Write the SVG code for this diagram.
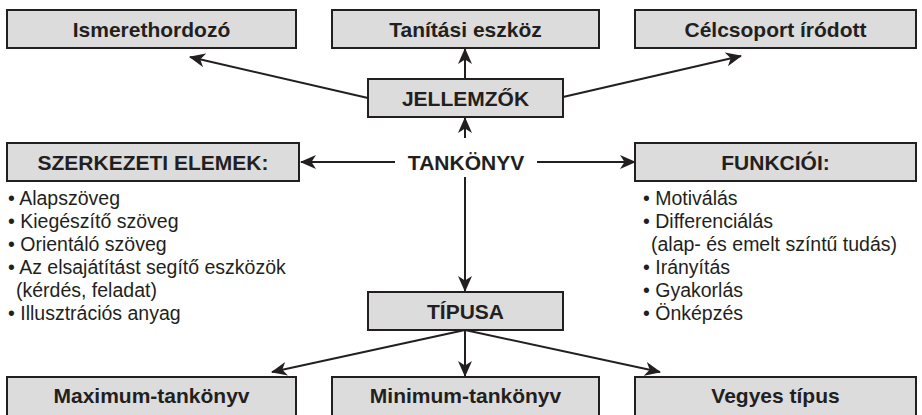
<svg xmlns="http://www.w3.org/2000/svg" width="922" height="415" viewBox="0 0 922 415">
<defs>
<marker id="ah" markerWidth="16" markerHeight="14" refX="15" refY="7" orient="auto" markerUnits="userSpaceOnUse">
<path d="M0,0 L16,7 L0,14 L4.5,7 Z" fill="#231f20"/>
</marker>
<style>
.box{fill:#dcdcdc;stroke:#231f20;stroke-width:2}
.lbl{font-family:"Liberation Sans",Arial,sans-serif;font-weight:bold;font-size:21px;fill:#231f20;text-anchor:middle}
.lst{font-family:"Liberation Sans",Arial,sans-serif;font-size:19.5px;fill:#231f20}
.con{stroke:#231f20;stroke-width:2;fill:none;marker-end:url(#ah)}
</style>
</defs>
<rect width="922" height="415" fill="#fff"/>
<g id="connectors">
<line class="con" x1="368" y1="98" x2="190" y2="57"/>
<line class="con" x1="465" y1="79" x2="465" y2="49"/>
<line class="con" x1="563" y1="97" x2="741" y2="56"/>
<line class="con" x1="465" y1="138" x2="465" y2="118"/>
<line class="con" x1="395" y1="162" x2="301" y2="162"/>
<line class="con" x1="537" y1="162" x2="635" y2="162"/>
<line class="con" x1="465" y1="177" x2="465" y2="291"/>
<line class="con" x1="465" y1="330" x2="272" y2="372"/>
<line class="con" x1="465" y1="330" x2="465" y2="376"/>
<line class="con" x1="465" y1="330" x2="660" y2="372"/>
</g>
<g id="ismerethordozo"><rect class="box" x="7" y="10" width="289" height="38"/><text class="lbl" x="151.5" y="36.5">Ismerethordozó</text></g>
<g id="tanitasi-eszkoz"><rect class="box" x="332" y="10" width="267" height="38"/><text class="lbl" x="465.5" y="36.5">Tanítási eszköz</text></g>
<g id="celcsoport"><rect class="box" x="635" y="10" width="281" height="38"/><text class="lbl" x="775.5" y="36.5">Célcsoport íródott</text></g>
<g id="jellemzok"><rect class="box" x="368" y="79" width="195" height="38"/><text class="lbl" x="465.5" y="105.5">JELLEMZŐK</text></g>
<g id="tankonyv"><text class="lbl" x="466" y="169.5">TANKÖNYV</text></g>
<g id="szerkezeti"><rect class="box" x="7" y="143" width="292" height="38"/><text class="lbl" x="153" y="169.5">SZERKEZETI ELEMEK:</text>
<text class="lst" x="8" y="205">• Alapszöveg</text>
<text class="lst" x="8" y="228">• Kiegészítő szöveg</text>
<text class="lst" x="8" y="251">• Orientáló szöveg</text>
<text class="lst" x="8" y="274">• Az elsajátítást segítő eszközök</text>
<text class="lst" x="16" y="297">(kérdés, feladat)</text>
<text class="lst" x="8" y="320">• Illusztrációs anyag</text>
</g>
<g id="funkcioi"><rect class="box" x="635" y="143" width="281" height="38"/><text class="lbl" x="775.5" y="169.5">FUNKCIÓI:</text>
<text class="lst" x="643" y="205">• Motiválás</text>
<text class="lst" x="643" y="228">• Differenciálás</text>
<text class="lst" x="651" y="251">(alap- és emelt színtű tudás)</text>
<text class="lst" x="643" y="274">• Irányítás</text>
<text class="lst" x="643" y="297">• Gyakorlás</text>
<text class="lst" x="643" y="320">• Önképzés</text>
</g>
<g id="tipusa"><rect class="box" x="368" y="292" width="195" height="38"/><text class="lbl" x="465.5" y="318.5">TÍPUSA</text></g>
<g id="maximum"><rect class="box" x="7" y="377" width="289" height="40"/><text class="lbl" x="151.5" y="403">Maximum-tankönyv</text></g>
<g id="minimum"><rect class="box" x="332" y="377" width="267" height="40"/><text class="lbl" x="465.5" y="403">Minimum-tankönyv</text></g>
<g id="vegyes"><rect class="box" x="635" y="377" width="281" height="40"/><text class="lbl" x="775.5" y="403">Vegyes típus</text></g>
</svg>
